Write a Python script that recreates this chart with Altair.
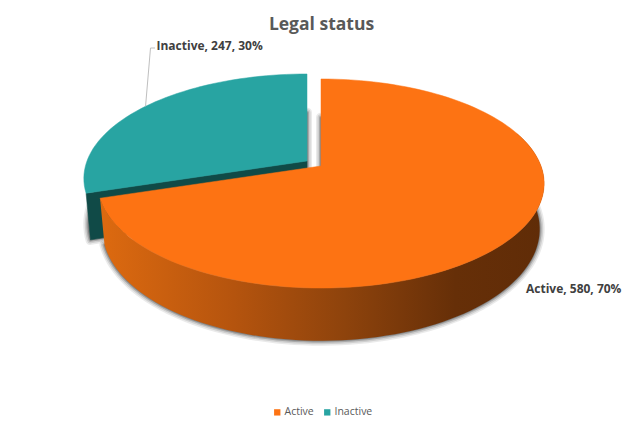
import numpy as np
import pandas as pd
import altair as alt

categories = ["Active", "Inactive"]
values = [580, 247]
colors = ["#FD7313", "#28A4A2"]
wall_dark = "#104A47"
title_text = "Legal status"
text_color = "#404040"
font = "Open Sans"

# Perspective model of the tilted pie (page pixels)
K, A, B = 0.1674, 101.6, 220.0
RIM_SCALE_X, RIM_SCALE_Y, RIM_DROP = 0.98, 1.067, 44.5
APEX = {"Active": (321.0, 166.0), "Inactive": (307.0, 161.0)}

total = sum(values)
split = 360.0 * values[0] / total
SPAN = {"Active": (0.0, split), "Inactive": (split, 360.0)}


def project(theta, apex, rim=False):
    t = np.radians(theta)
    u, v = np.sin(t), np.cos(t)
    d = 1 + K * v
    sx = RIM_SCALE_X if rim else 1.0
    sy = RIM_SCALE_Y if rim else 1.0
    drop = RIM_DROP if rim else 0.0
    return apex[0] + sx * B * u / d, apex[1] + drop - sy * A * v / d


def arc(a, b, apex, rim=False):
    n = max(int(abs(b - a) / 2), 2)
    return [project(t, apex, rim) for t in np.linspace(a, b, n)]


def poly(points, name=""):
    points = list(points) + [points[0]]
    return pd.DataFrame(
        {"px": [p[0] for p in points], "py": [p[1] for p in points],
         "i": range(len(points)), "status": name}
    )


def wedge(cat, rim=False):
    a, b = SPAN[cat]
    ap = APEX[cat]
    c = (ap[0], ap[1] + RIM_DROP) if rim else ap
    return [c] + arc(a, b, ap, rim)


x = alt.X("px:Q", scale=alt.Scale(domain=[8, 635], nice=False, zero=False), axis=None)
y = alt.Y("py:Q", scale=alt.Scale(domain=[421, 8], nice=False, zero=False), axis=None)
enc = dict(x=x, y=y, order=alt.Order("i:Q"))


def shape(df, fill, **kw):
    return alt.Chart(df).mark_line(fill=fill, stroke=kw.pop("stroke", fill),
                                   strokeWidth=kw.pop("strokeWidth", 0.5),
                                   strokeJoin="round", **kw).encode(**enc)


layers = []
# soft shadows on the ground
for cat in categories:
    for sw, op in [(10, 0.10), (7, 0.15), (4, 0.25), (1.5, 0.35)]:
        layers.append(shape(poly(wedge(cat, True)), "#3A3A3A", stroke="#3A3A3A",
                            strokeWidth=sw, opacity=op))

# Inactive: cut face, then top
a_in = SPAN["Inactive"][0]
ap_in = APEX["Inactive"]
c_in = (ap_in[0], ap_in[1] + RIM_DROP)
layers.append(shape(poly([ap_in, project(a_in, ap_in), project(a_in, ap_in, True), c_in]), wall_dark))

# Active: outer wall with shading
ap_ac = APEX["Active"]
top_rim = arc(70, split, ap_ac)
low_rim = arc(70, split, ap_ac, True)
wall_fill = alt.Gradient(
    gradient="linear", x1=0, y1=0, x2=1, y2=0,
    stops=[
        alt.GradientStop(offset=0.0, color="#DD6A10"),
        alt.GradientStop(offset=0.3, color="#B5540E"),
        alt.GradientStop(offset=0.55, color="#8E430C"),
        alt.GradientStop(offset=0.8, color="#662F08"),
        alt.GradientStop(offset=1.0, color="#602C07"),
    ],
)
layers.append(
    alt.Chart(poly(top_rim + low_rim[::-1])).mark_line(
        fill=wall_fill, strokeWidth=0, strokeJoin="round"
    ).encode(**enc)
)

# top faces carry the legend (Inactive first so Active sits over it)
tops = pd.concat([poly(wedge(c), c) for c in categories[::-1]], ignore_index=True)
layers.append(
    alt.Chart(tops).mark_line(strokeWidth=0.5, strokeJoin="round").encode(
        **enc,
        fill=alt.Fill(
            "status:N",
            scale=alt.Scale(domain=categories, range=colors),
            sort=categories,
            legend=alt.Legend(
                title=None, orient="none", legendX=264, legendY=399,
                direction="horizontal", symbolType="square", symbolSize=40,
                symbolStrokeWidth=0, labelFont=font, labelFontSize=10.5,
                labelColor="#595959", columnPadding=8, labelOffset=2,
            ),
        ),
        stroke=alt.Stroke("status:N", scale=alt.Scale(domain=categories, range=colors), legend=None),
    )
)

# leader line for Inactive label
mid_in = project((split + 360) / 2, APEX["Inactive"])
leader = poly([mid_in, (150.5, 48), (155, 48)]).iloc[:-1]
layers.append(
    alt.Chart(leader).mark_line(stroke="#BFBFBF", strokeWidth=1).encode(**enc)
)

# data labels
percents = [round(100 * v / total) for v in values]
labels = pd.DataFrame({
    "px": [526, 156.5],
    "py": [289, 46],
    "txt": [f"{c}, {v}, {p}%" for c, v, p in zip(categories, values, percents)],
})
layers.append(
    alt.Chart(labels).mark_text(
        align="left", baseline="middle", font=font, fontSize=12,
        fontWeight="bold", color=text_color,
    ).encode(x=x, y=y, text="txt:N")
)

chart = alt.layer(*layers).resolve_scale(fill="shared", stroke="shared").properties(
    width=627, height=413,
    padding=0,
    autosize=alt.AutoSizeParams(type="none"),
    title=alt.TitleParams(
        title_text, anchor="middle", font=font, fontSize=17.5, fontWeight="bold",
        color="#595959", dy=29,
    ),
).configure_view(stroke=None)

chart.save("out.html", embed_options={"renderer": "svg", "actions": False})
